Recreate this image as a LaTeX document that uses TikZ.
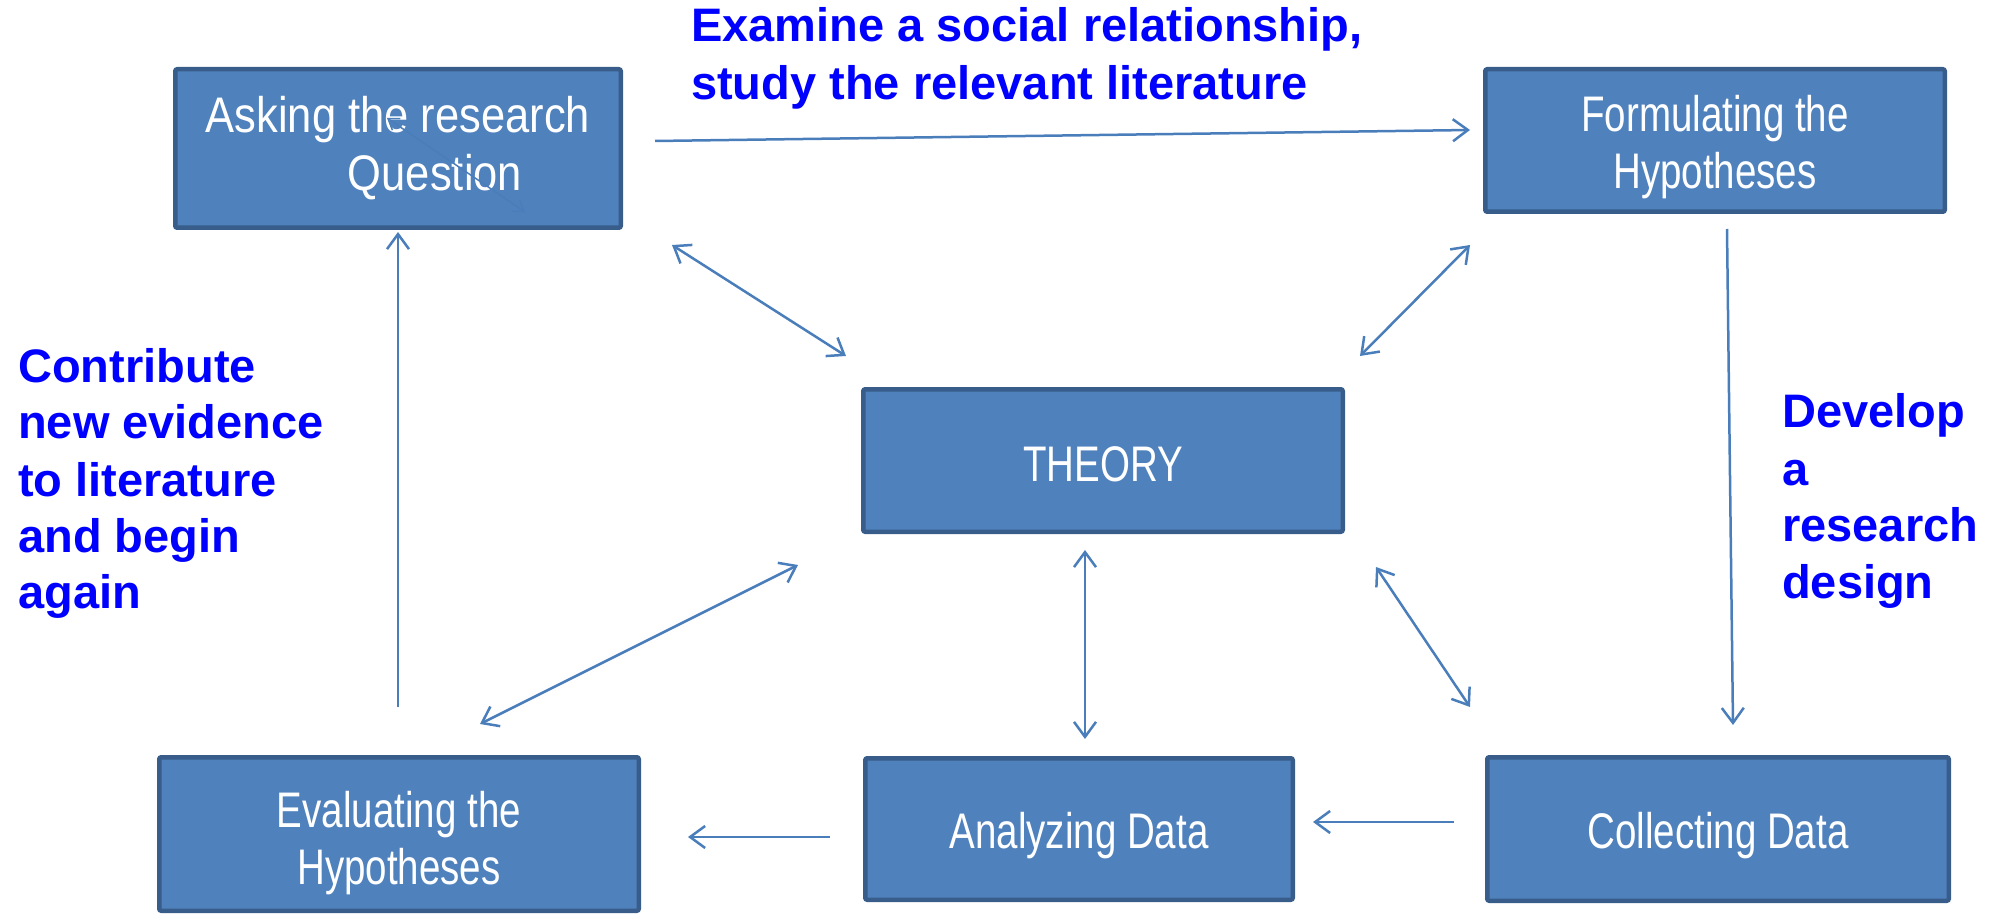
\documentclass[tikz,border=0pt]{standalone}
\usepackage{fontspec}
\setmainfont{Liberation Sans}
\newfontfamily\boxfont[FakeStretch=0.77]{Liberation Sans}
\newfontfamily\askfont[FakeStretch=0.87]{Liberation Sans}
\usetikzlibrary{arrows.meta}
\definecolor{boxfill}{HTML}{4F81BD}
\definecolor{boxline}{HTML}{385D8A}
\definecolor{arrowblue}{HTML}{4A7EBB}
\definecolor{labblue}{HTML}{0000FF}
\begin{document}
\begin{tikzpicture}[x=1pt,y=-1pt,
  stagebox/.style={draw=boxline, fill=boxfill, line width=4.5pt, rounded corners=2pt, inner sep=0pt},
  boxtxt/.style={text=white, align=center, inner sep=0pt, font=\boxfont\fontsize{50}{57}\selectfont},
  barb/.tip={Straight Barb[length=15pt,width=22pt]},
  flow/.style={draw=arrowblue, line width=2.5pt, -barb},
  twoway/.style={draw=arrowblue, line width=2.5pt, barb-barb},
  lab/.style={text=labblue, font=\bfseries\fontsize{47}{56}\selectfont, anchor=base west, inner sep=0pt}]
\path[use as bounding box] (0,0) rectangle (1995,917);

% boxes
\node[stagebox, minimum width=445.5pt, minimum height=158.5pt] (ask) at (398,148.5) {};
\node[stagebox, minimum width=459.5pt, minimum height=142.5pt] (form) at (1715,140.5) {};
\node[stagebox, minimum width=479.5pt, minimum height=142.5pt] (theory) at (1103,460.5) {};
\node[stagebox, minimum width=479.5pt, minimum height=153.5pt] (eval) at (399,834) {};
\node[stagebox, minimum width=427.5pt, minimum height=141.5pt] (anal) at (1079,829) {};
\node[stagebox, minimum width=461.5pt, minimum height=143.5pt] (coll) at (1718,829) {};

% box texts
\node[boxtxt, font=\askfont\fontsize{50}{58}\selectfont] (asktxt) at (ask.center)
  {Asking the research\\\hspace*{74pt}Question};
\node[boxtxt] (formtxt) at ([yshift=-7pt]form.center) {Formulating the\\Hypotheses};
\node[boxtxt] (theorytxt) at ([yshift=-4pt]theory.center) {THEORY};
\node[boxtxt] (evaltxt) at ([yshift=-9pt]eval.center) {Evaluating the\\Hypotheses};
\node[boxtxt] (analtxt) at ([yshift=-7pt]anal.center) {Analyzing Data};
\node[boxtxt] (colltxt) at ([yshift=-7pt]coll.center) {Collecting Data};

% arrow end points
\coordinate (askR) at (655,141);   \coordinate (formL) at (1470,130);
\coordinate (askT1) at (672,245);  \coordinate (thA) at (846,356);
\coordinate (formT) at (1470,245); \coordinate (thF) at (1360,356);
\coordinate (formB) at (1727,229); \coordinate (collT) at (1733,725);
\coordinate (thC) at (1376,567);   \coordinate (collTL) at (1470,707);
\coordinate (thB) at (1085,550);   \coordinate (analT) at (1085,739);
\coordinate (collL) at (1454,822); \coordinate (analR) at (1313,822);
\coordinate (analL) at (830,837);  \coordinate (evalR) at (688,837);
\coordinate (thE) at (798,565);    \coordinate (evalT) at (480,724);
\coordinate (evalU) at (398,707);  \coordinate (askB) at (398,232);
\coordinate (inA) at (387,118);    \coordinate (inB) at (525,212);

% connectors
\draw[flow] (askR) -- (formL);
\draw[twoway] (askT1) -- (thA);
\draw[twoway] (formT) -- (thF);
\draw[flow] (formB) -- (collT);
\draw[twoway] (thC) -- (collTL);
\draw[twoway] (thB) -- (analT);
\draw[flow] (collL) -- (analR);
\draw[flow] (analL) -- (evalR);
\draw[twoway] (thE) -- (evalT);
\draw[flow] (evalU) -- (askB);
\draw[draw=arrowblue, line width=1.5pt, {Straight Barb[length=10pt,width=14pt]}-{Straight Barb[length=10pt,width=14pt]}] (inA) -- (inB);

% labels
\node[lab] (ex1) at (691,42) {Examine a social relationship,};
\node[lab] (ex2) at (691,100) {study the relevant literature};

\node[lab] (c1) at (18,382) {Contribute};
\node[lab] (c2) at (18,438) {new evidence};
\node[lab] (c3) at (18,496) {to literature};
\node[lab] (c4) at (18,552) {and begin};
\node[lab] (c5) at (18,608) {again};

\node[lab] (d1) at (1782,427) {Develop};
\node[lab] (d2) at (1782,485) {a};
\node[lab] (d3) at (1782,541) {research};
\node[lab] (d4) at (1782,598) {design};
\end{tikzpicture}
\end{document}
